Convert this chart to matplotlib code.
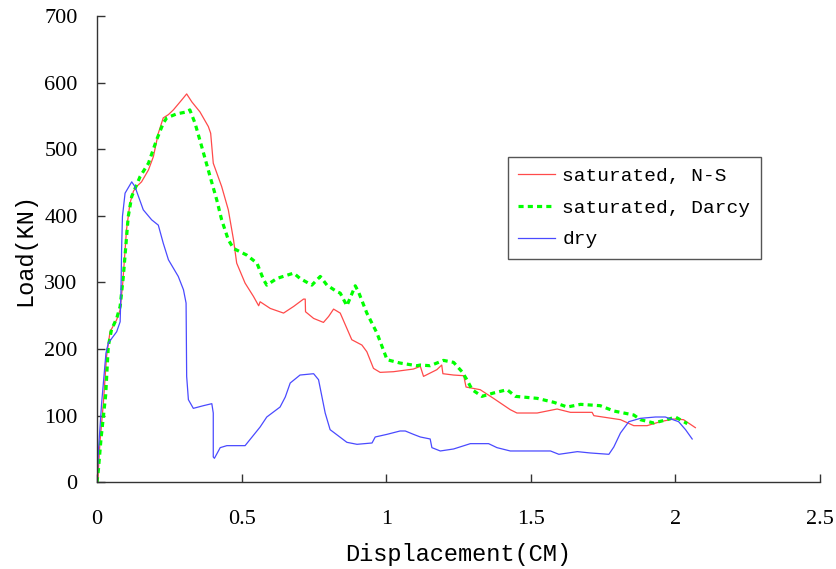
import matplotlib
matplotlib.use("Agg")
import matplotlib.pyplot as plt

# Load-displacement records (displacement in cm, load in kN)
ns_disp = [0.0, 0.003, 0.010, 0.022, 0.033, 0.045, 0.068, 0.080, 0.089, 0.102, 0.114, 0.126,
           0.137, 0.154, 0.178, 0.195, 0.212, 0.229, 0.247, 0.264, 0.293, 0.310, 0.328, 0.356,
           0.385, 0.393, 0.402, 0.431, 0.454, 0.472, 0.483, 0.512, 0.541, 0.559, 0.564, 0.599,
           0.645, 0.680, 0.714, 0.720, 0.721, 0.749, 0.783, 0.801, 0.818, 0.841, 0.881, 0.916,
           0.933, 0.956, 0.979, 1.025, 1.094, 1.118, 1.129, 1.175, 1.192, 1.196, 1.233, 1.268,
           1.276, 1.325, 1.371, 1.429, 1.452, 1.522, 1.591, 1.637, 1.712, 1.718, 1.810, 1.856,
           1.902, 1.948, 1.994, 2.028, 2.069]
ns_load = [0, 4, 59, 119, 189, 226, 244, 259, 299, 379, 419, 437,
           444, 451, 469, 489, 524, 547, 552, 559, 574, 583, 571, 556,
           534, 524, 479, 444, 409, 364, 329, 299, 279, 265, 271, 261,
           254, 264, 275, 275, 256, 246, 240, 249, 260, 254, 214, 206,
           196, 171, 165, 166, 170, 174, 159, 169, 176, 163, 161, 160,
           143, 139, 126, 109, 104, 104, 110, 105, 105, 100, 94, 85,
           85, 91, 95, 94, 82]

darcy_disp = [0.0, 0.005, 0.014, 0.030, 0.039, 0.050, 0.068, 0.080, 0.091, 0.108, 0.120, 0.149,
              0.178, 0.206, 0.229, 0.241, 0.275, 0.310, 0.321, 0.339, 0.362, 0.391, 0.414, 0.431,
              0.454, 0.472, 0.518, 0.553, 0.576, 0.587, 0.622, 0.680, 0.702, 0.743, 0.772, 0.795,
              0.830, 0.841, 0.864, 0.893, 0.904, 0.933, 0.968, 1.003, 1.048, 1.106, 1.118, 1.152,
              1.198, 1.233, 1.262, 1.279, 1.297, 1.331, 1.371, 1.418, 1.447, 1.522, 1.580, 1.626,
              1.672, 1.740, 1.787, 1.856, 1.879, 1.925, 1.971, 2.000, 2.041]
darcy_load = [0, 20, 66, 131, 204, 229, 246, 264, 309, 399, 429, 459,
              479, 514, 539, 547, 553, 556, 559, 539, 504, 459, 424, 394,
              364, 351, 341, 329, 304, 296, 306, 314, 306, 296, 309, 296,
              286, 284, 265, 295, 286, 254, 224, 184, 179, 175, 176, 175,
              183, 180, 166, 154, 139, 129, 134, 139, 129, 126, 120, 113,
              117, 115, 107, 101, 94, 89, 94, 98, 88]

dry_disp = [0.0, 0.005, 0.016, 0.031, 0.039, 0.068, 0.080, 0.083, 0.085, 0.088, 0.097, 0.120,
            0.131, 0.160, 0.189, 0.212, 0.229, 0.247, 0.281, 0.299, 0.308, 0.310, 0.316, 0.333,
            0.368, 0.397, 0.402, 0.402, 0.406, 0.426, 0.449, 0.460, 0.512, 0.564, 0.587, 0.633,
            0.651, 0.668, 0.702, 0.749, 0.766, 0.789, 0.806, 0.864, 0.899, 0.951, 0.962, 1.003,
            1.048, 1.066, 1.094, 1.118, 1.152, 1.158, 1.187, 1.233, 1.291, 1.354, 1.383, 1.429,
            1.522, 1.568, 1.597, 1.661, 1.706, 1.770, 1.787, 1.810, 1.839, 1.879, 1.931, 1.965,
            2.011, 2.035, 2.058]
dry_load = [0, 48, 119, 194, 209, 226, 241, 289, 349, 399, 434, 451,
            444, 409, 394, 386, 359, 334, 309, 289, 269, 159, 124, 111,
            115, 118, 104, 38, 36, 52, 55, 55, 55, 83, 98, 113,
            128, 149, 161, 163, 154, 104, 79, 60, 57, 59, 68, 72,
            77, 77, 72, 68, 65, 52, 47, 50, 58, 58, 52, 47,
            47, 47, 42, 46, 44, 42, 53, 74, 91, 96, 98, 98,
            91, 79, 65]

x_ticks = [0, 0.5, 1, 1.5, 2, 2.5]
x_tick_labels = ["0", "0.5", "1", "1.5", "2", "2.5"]
y_ticks = [0, 100, 200, 300, 400, 500, 600, 700]

fig = plt.figure(figsize=(8.37, 5.69), dpi=100)
ax = fig.add_axes([0.1159, 0.1524, 0.8638, 0.8195])

ax.plot(ns_disp, ns_load, color="#ff4a4a", lw=0.9, label="saturated, N-S")
ax.plot(darcy_disp, darcy_load, color="#00ff00", lw=2.3,
        linestyle=(0, (1.6, 1.3)), label="saturated, Darcy")
ax.plot(dry_disp, dry_load, color="#4a4aff", lw=0.9, label="dry")

ax.set_xlim(0, 2.5)
ax.set_ylim(0, 700)
ax.set_xticks(x_ticks)
ax.set_xticklabels(x_tick_labels)
ax.set_yticks(y_ticks)

for side in ("top", "right"):
    ax.spines[side].set_visible(False)
for side in ("left", "bottom"):
    ax.spines[side].set_color("#333333")
    ax.spines[side].set_linewidth(1.0)

ax.tick_params(direction="in", length=6, width=1.0, color="#333333")
ax.tick_params(axis="x", pad=20)
ax.tick_params(axis="y", pad=14)
for lab in ax.get_xticklabels() + ax.get_yticklabels():
    lab.set_fontfamily("Liberation Serif")
    lab.set_fontsize(16)

ax.set_xlabel("Displacement(CM)", fontfamily="Liberation Mono", fontsize=17, labelpad=10)
ax.set_ylabel("Load(KN)", fontfamily="Liberation Mono", fontsize=17, labelpad=6)

leg = ax.legend(loc="upper left", bbox_to_anchor=(0.568, 0.698), borderaxespad=0,
                prop={"family": "Liberation Mono", "size": 14}, fancybox=False,
                framealpha=1, edgecolor="#555555", handlelength=1.9,
                handletextpad=0.36, labelspacing=0.72, borderpad=0.55)
leg.get_frame().set_linewidth(1.0)

fig.savefig("out.png", dpi=100)
